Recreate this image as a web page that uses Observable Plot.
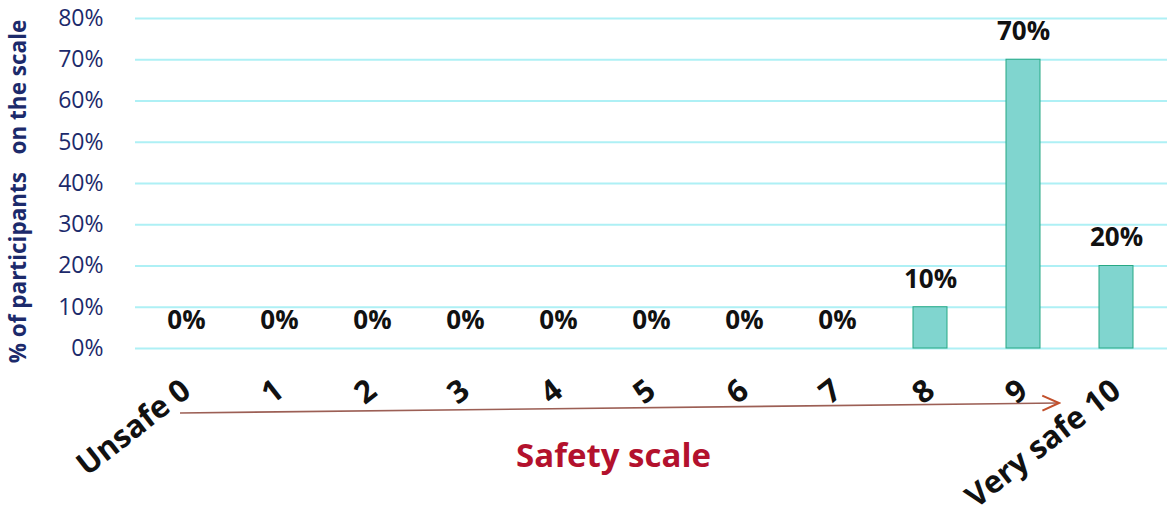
<!DOCTYPE html>
<html>
<head>
<meta charset="utf-8">
<script src="https://cdn.jsdelivr.net/npm/d3@7"></script>
<script src="https://cdn.jsdelivr.net/npm/@observablehq/plot@0.6"></script>
<style>
  html, body { margin: 0; padding: 0; background: #fff; }
  #chart svg { display: block; }
</style>
</head>
<body>
<div id="chart"></div>
<script>
// Safety rating distribution: share of participants at each point of a 0–10 scale
const scores = ["0", "1", "2", "3", "4", "5", "6", "7", "8", "9", "10"];
const shares = [0, 0, 0, 0, 0, 0, 0, 0, 0.10, 0.70, 0.20];
const tickLabels = ["Unsafe 0", "1", "2", "3", "4", "5", "6", "7", "8", "9", "Very safe 10"];
const yTicks = [0, 0.1, 0.2, 0.3, 0.4, 0.5, 0.6, 0.7, 0.8];
const xTitle = "Safety scale";
const yTitle = "% of participants   on the scale";

const data = scores.map((s, i) => ({score: s, share: shares[i]}));
const pct = d3.format(".0%");
const font = "'Open Sans', Lato, sans-serif";

const chart = Plot.plot({
  width: 1168,
  height: 515,
  marginLeft: 135,
  marginRight: 1,
  marginTop: 18,
  marginBottom: 167,
  style: {fontFamily: font, background: "#fff", overflow: "visible"},
  x: {domain: scores, paddingInner: 0.63, paddingOuter: 0.315, label: null},
  y: {domain: [0, 0.8], label: null},
  marks: [
    Plot.gridY(yTicks, {stroke: "#aef0f5", strokeOpacity: 1, strokeWidth: 2}),
    Plot.barY(data.filter(d => d.share > 0), {
      x: "score", y: "share", fill: "#80d5cf", stroke: "#27a884", strokeWidth: 1
    }),
    Plot.text(data, {
      x: "score", y: "share", text: d => pct(d.share), dy: -28,
      fontSize: 26, fontWeight: "bold", fill: "#111"
    }),
    Plot.axisY(yTicks, {
      tickSize: 0, tickPadding: 32, tickFormat: pct,
      fontSize: 23, fontWeight: 500, fill: "#1c2a6b", label: null
    }),
    Plot.axisX({
      tickSize: 0, tickPadding: 38, tickRotate: -38,
      tickFormat: (d, i) => tickLabels[i],
      fontSize: 31, fontWeight: "bold", fill: "#111", label: null
    }),
    Plot.text([yTitle], {
      frameAnchor: "left", textAnchor: "middle", dx: -117, dy: 8, rotate: -90,
      fontSize: 22.5, fontWeight: "bold", fill: "#1c2a6b"
    }),
    Plot.text([xTitle], {
      frameAnchor: "bottom", dx: -38, dy: 118,
      fontSize: 33, fontWeight: "bold", fill: "#b3112d"
    })
  ]
});

// Direction arrow under the scale, from "Unsafe" towards "Very safe"
const xs = chart.scale("x");
const half = xs.bandwidth / 2;
const bottom = 515 - 167;
const svg = d3.select(chart);
const defs = svg.append("defs");
defs.append("marker")
  .attr("id", "arrowhead")
  .attr("viewBox", "0 0 12 12")
  .attr("refX", 11).attr("refY", 6)
  .attr("markerWidth", 20).attr("markerHeight", 20)
  .attr("markerUnits", "userSpaceOnUse")
  .attr("orient", "auto")
  .append("path")
  .attr("d", "M1,1.5 L11,6 L1,10.5")
  .attr("fill", "none")
  .attr("stroke", "#c2502c")
  .attr("stroke-width", 1.2);
svg.append("line")
  .attr("x1", xs.apply("0") + half - 6)
  .attr("y1", bottom + 65)
  .attr("x2", xs.apply("9") + half + 36)
  .attr("y2", bottom + 55)
  .attr("stroke", "#9c5f55")
  .attr("stroke-width", 1.6)
  .attr("marker-end", "url(#arrowhead)");

svg.selectAll("text").style("white-space", "pre");
document.getElementById("chart").append(chart);
</script>
</body>
</html>
